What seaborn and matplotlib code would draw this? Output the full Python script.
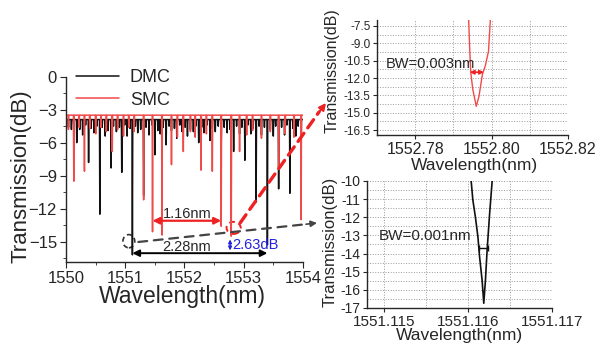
import numpy as np
import pandas as pd
import matplotlib
matplotlib.use("Agg")
import matplotlib.pyplot as plt
import seaborn as sns
from matplotlib.patches import Ellipse, ConnectionPatch
from matplotlib.ticker import MultipleLocator, FormatStrFormatter


# Data

# DMC (black) dips: wavelength (nm), transmission at dip bottom (dB)
dmc_wl = [1550.00, 1550.09, 1550.18, 1550.28, 1550.38, 1550.47, 1550.57, 1550.66,
          1550.76, 1550.85, 1550.94, 1551.03, 1551.12, 1551.21, 1551.31, 1551.40,
          1551.50, 1551.59, 1551.69, 1551.78, 1551.87, 1551.96, 1552.05, 1552.15,
          1552.24, 1552.33, 1552.43, 1552.52, 1552.62, 1552.72, 1552.83, 1552.93,
          1553.02, 1553.12, 1553.21, 1553.30, 1553.40, 1553.50, 1553.59, 1553.69,
          1553.78, 1553.88, 1553.97]
dmc_db = [-5.3, -4.8, -6.0, -5.3, -7.8, -5.1, -12.5, -5.4,
          -8.3, -5.0, -8.7, -5.4, -16.2, -5.1, -10.8, -5.3,
          -7.1, -5.2, -6.2, -4.9, -5.6, -5.0, -5.4, -5.0,
          -6.0, -5.1, -5.8, -5.0, -6.3, -5.1, -6.8, -5.2,
          -7.6, -5.2, -11.4, -5.3, -15.3, -5.4, -10.2, -5.3,
          -10.6, -5.4, -6.5]
# short spikes that make up the dense black band near -4 dB
dmc_small_wl = [1550.04, 1550.13, 1550.23, 1550.33, 1550.42, 1550.52, 1550.61, 1550.71,
                1550.80, 1550.90, 1550.99, 1551.08, 1551.17, 1551.26, 1551.35, 1551.45,
                1551.55, 1551.64, 1551.74, 1551.83, 1551.92, 1552.01, 1552.10, 1552.19,
                1552.29, 1552.38, 1552.47, 1552.57, 1552.67, 1552.77, 1552.88, 1552.97,
                1553.07, 1553.16, 1553.26, 1553.35, 1553.45, 1553.54, 1553.64, 1553.73,
                1553.83, 1553.92]
dmc_small_db = [-4.6, -4.5, -4.8, -4.4, -4.7, -4.5, -4.6, -4.9,
                -4.5, -4.6, -4.4, -4.7, -4.5, -4.8, -4.6, -4.4,
                -4.9, -4.6, -4.5, -4.7, -4.4, -4.6, -4.8, -4.5,
                -4.6, -4.4, -4.7, -4.5, -4.6, -4.8, -4.5, -4.6,
                -4.4, -4.7, -4.5, -4.6, -4.8, -4.5, -4.6, -4.4,
                -4.7, -4.5]
dmc_base = -3.9

# SMC (red) dips
smc_wl = [1550.04, 1550.13, 1550.22, 1550.31, 1550.40, 1550.50, 1550.59, 1550.68,
          1550.78, 1550.87, 1550.97, 1551.06, 1551.15, 1551.31, 1551.46, 1551.62,
          1551.78, 1551.88, 1551.98, 1552.10, 1552.18, 1552.28, 1552.37, 1552.47,
          1552.62, 1552.79, 1552.93, 1553.05, 1553.15, 1553.30, 1553.45, 1553.59,
          1553.70, 1553.85, 1553.97]
smc_db = [-4.8, -9.5, -4.6, -8.6, -4.7, -5.2, -4.6, -5.0,
          -6.8, -4.8, -5.4, -4.6, -5.0, -11.2, -14.1, -14.4,
          -8.0, -5.5, -6.8, -5.0, -5.5, -8.5, -5.2, -8.6,
          -13.6, -14.5, -6.8, -5.3, -4.9, -5.6, -5.0, -8.3,
          -5.2, -5.5, -13.0]
smc_base = -3.5

# zoom of the SMC dip near 1552.796 nm
smc_zoom_wl = [1552.7940, 1552.7943, 1552.79455, 1552.7951, 1552.7960, 1552.7967,
               1552.7976, 1552.7984, 1552.7992, 1552.7997]
smc_zoom_db = [-6.9, -9.6, -11.5, -13.0, -14.45, -13.6, -11.7, -10.9, -9.7, -6.9]

# zoom of the DMC dip near 1551.116 nm
dmc_zoom_wl = [1551.11604, 1551.11606, 1551.11609, 1551.11612, 1551.11614, 1551.11617,
               1551.11619, 1551.11621, 1551.11623, 1551.11626, 1551.11629]
dmc_zoom_db = [-10.0, -11.05, -11.97, -13.07, -14.17, -15.46, -16.74, -15.46,
               -13.8, -11.78, -10.0]


def spectrum(wl, db, base, name):
    # each dip drawn as a narrow notch down from the baseline
    hw = 0.006
    dips = sorted(zip(wl, db))
    xs, ys = [1550.0], [base]
    for w, d in dips:
        xs += [w - hw, w, w + hw]
        ys += [base, d, base]
    xs.append(1554.0)
    ys.append(base)
    return pd.DataFrame({"wl": xs, "T": ys, "sample": name})


df = pd.concat([spectrum(dmc_wl + dmc_small_wl, dmc_db + dmc_small_db, dmc_base, "DMC"),
                spectrum(smc_wl, smc_db, smc_base, "SMC")], ignore_index=True)

sns.set_style("ticks")
plt.rcParams["font.family"] = ["Liberation Sans", "DejaVu Sans"]
plt.rcParams["axes.linewidth"] = 1.0

RED = "#f04a4a"
fig = plt.figure(figsize=(6.08, 3.47), dpi=100)

# Main spectrum
ax = fig.add_axes([0.1087, 0.245, 0.3895, 0.534])
sns.lineplot(data=df, x="wl", y="T", hue="sample", palette={"DMC": "#111111", "SMC": RED},
             estimator=None, sort=False, lw=1.1, ax=ax)
ax.set_xlim(1550, 1554)
ax.set_ylim(-16.85, 0)
ax.xaxis.set_major_locator(MultipleLocator(1))
ax.xaxis.set_minor_locator(MultipleLocator(0.5))
ax.yaxis.set_major_locator(MultipleLocator(3))
ax.yaxis.set_minor_locator(MultipleLocator(1.5))
ax.tick_params(which="both", direction="out", labelsize=12, length=4, pad=2.5)
ax.tick_params(which="minor", length=2.5)
ax.set_xlabel("Wavelength(nm)", fontsize=16.5)
ax.set_ylabel("Transmission(dB)", fontsize=16)
ax.xaxis.set_label_coords(0.49, -0.125)
ax.yaxis.set_label_coords(-0.148, 0.465)
sns.despine(ax=ax)
ax.legend(loc="upper left", bbox_to_anchor=(0.01, 1.08), frameon=False, fontsize=13,
          handlelength=2.4, borderaxespad=0, labelspacing=0.3, handletextpad=0.6)

# annotations on the main panel
ax.annotate("", xy=(1551.12, -16.05), xytext=(1553.40, -16.05),
            arrowprops=dict(arrowstyle="<|-|>", color="black", lw=1.4, mutation_scale=10,
                            shrinkA=0, shrinkB=0))
ax.text(1552.04, -15.45, "2.28nm", ha="center", va="center", fontsize=10.5)
ax.annotate("", xy=(1551.46, -13.1), xytext=(1552.62, -13.1),
            arrowprops=dict(arrowstyle="<|-|>", color="#ee2222", lw=1.6, mutation_scale=10,
                            shrinkA=0, shrinkB=0))
ax.text(1552.04, -12.5, "1.16nm", ha="center", va="center", fontsize=10.5)
ax.annotate("", xy=(1552.77, -14.8), xytext=(1552.77, -15.8),
            arrowprops=dict(arrowstyle="<|-|>", color="#2222dd", lw=1.0, mutation_scale=5,
                            shrinkA=0, shrinkB=0))
ax.text(1552.80, -15.3, "2.63dB", ha="left", va="center", fontsize=10.5, color="#2222dd")
ax.add_patch(Ellipse((1551.06, -14.96), 0.2, 1.2, fill=False, ls=(0, (3, 2)),
                     ec="#333333", lw=1.2))
ax.add_patch(Ellipse((1552.83, -13.75), 0.24, 1.1, fill=False, ls=(0, (3, 2)),
                     ec="#ee2222", lw=1.4))

# Top inset: SMC dip
ax2 = fig.add_axes([0.620, 0.611, 0.3141, 0.3314])
sns.lineplot(x=smc_zoom_wl, y=smc_zoom_db, color=RED, lw=1.0, sort=False,
             estimator=None, ax=ax2)
ax2.annotate("", xy=(1552.7943, -11.5), xytext=(1552.7980, -11.5),
             arrowprops=dict(arrowstyle="<|-|>", color="#ee2222", lw=1.2, mutation_scale=6,
                             shrinkA=0, shrinkB=0))
ax2.text(1552.7724, -10.75, "BW=0.003nm", ha="left", va="center", fontsize=10.5)
ax2.set_xlim(1552.77, 1552.82)
ax2.set_ylim(-16.93, -6.98)
ax2.xaxis.set_major_locator(MultipleLocator(0.02))
ax2.xaxis.set_minor_locator(MultipleLocator(0.01))
ax2.yaxis.set_major_locator(MultipleLocator(1.5))
ax2.yaxis.set_minor_locator(MultipleLocator(0.75))
ax2.xaxis.set_major_formatter(FormatStrFormatter("%.2f"))
ax2.yaxis.set_major_formatter(FormatStrFormatter("%.1f"))
ax2.tick_params(axis="x", labelsize=11.5, length=3, direction="out", pad=2)
ax2.tick_params(axis="y", labelsize=8.5, length=3, direction="out", pad=1.5)
ax2.tick_params(which="minor", length=0)
ax2.grid(which="both", ls=":", color="#9a9a9a", lw=0.7)
ax2.set_xlabel("Wavelength(nm)", fontsize=12.5)
ax2.set_ylabel("Transmission(dB)", fontsize=11.5)
ax2.xaxis.set_label_coords(0.51, -0.2)
ax2.yaxis.set_label_coords(-0.194, 0.557)
sns.despine(ax=ax2)

# Bottom inset: DMC dip
ax3 = fig.add_axes([0.6036, 0.1124, 0.304, 0.366])
sns.lineplot(x=dmc_zoom_wl, y=dmc_zoom_db, color="#111111", lw=1.2, sort=False,
             estimator=None, ax=ax3)
ax3.plot([1551.11613, 1551.11624], [-13.71, -13.71], color="#111111", lw=1.0,
         marker="|", ms=5, mew=1.0)
ax3.text(1551.11494, -13.03, "BW=0.001nm", ha="left", va="center", fontsize=11)
ax3.set_xlim(1551.1148, 1551.117)
ax3.set_ylim(-17, -10)
ax3.xaxis.set_major_locator(MultipleLocator(0.001))
ax3.xaxis.set_minor_locator(MultipleLocator(0.0005))
ax3.yaxis.set_major_locator(MultipleLocator(1))
ax3.yaxis.set_minor_locator(MultipleLocator(0.5))
ax3.xaxis.set_major_formatter(FormatStrFormatter("%.3f"))
ax3.yaxis.set_major_formatter(FormatStrFormatter("%d"))
ax3.tick_params(axis="x", labelsize=11, length=3, direction="out", pad=2)
ax3.tick_params(axis="y", labelsize=10, length=3, direction="out", pad=1.5)
ax3.tick_params(which="minor", length=0)
ax3.grid(which="both", ls=":", color="#9a9a9a", lw=0.7)
ax3.set_xlabel("Wavelength(nm)", fontsize=12.5)
ax3.set_ylabel("Transmission(dB)", fontsize=12)
ax3.xaxis.set_label_coords(0.50, -0.16)
ax3.yaxis.set_label_coords(-0.157, 0.52)
sns.despine(ax=ax3)

# dashed pointer arrows from the main panel to the insets
grey = ConnectionPatch(xyA=(1551.22, -15.03), coordsA=ax.transData,
                       xyB=(308 / 608, 1 - 224 / 347), coordsB="figure fraction",
                       color="#444444", lw=1.6, ls=(0, (4, 3)))
fig.add_artist(grey)
grey_head = ConnectionPatch(xyA=(306 / 608, 1 - 224.2 / 347), coordsA="figure fraction",
                            xyB=(317 / 608, 1 - 223 / 347), coordsB="figure fraction",
                            arrowstyle="-|>", color="#444444", lw=1.2, mutation_scale=9)
fig.add_artist(grey_head)
red = ConnectionPatch(xyA=(1552.94, -13.3), coordsA=ax.transData,
                      xyB=(319 / 608, 1 - 112 / 347), coordsB="figure fraction",
                      color="#ee2222", lw=2.4, ls=(0, (3, 2)))
fig.add_artist(red)
red_head = ConnectionPatch(xyA=(318 / 608, 1 - 113.5 / 347), coordsA="figure fraction",
                           xyB=(326 / 608, 1 - 103 / 347), coordsB="figure fraction",
                           arrowstyle="-|>", color="#ee2222", lw=1.5, mutation_scale=10)
fig.add_artist(red_head)

fig.savefig("out.png", dpi=100)
